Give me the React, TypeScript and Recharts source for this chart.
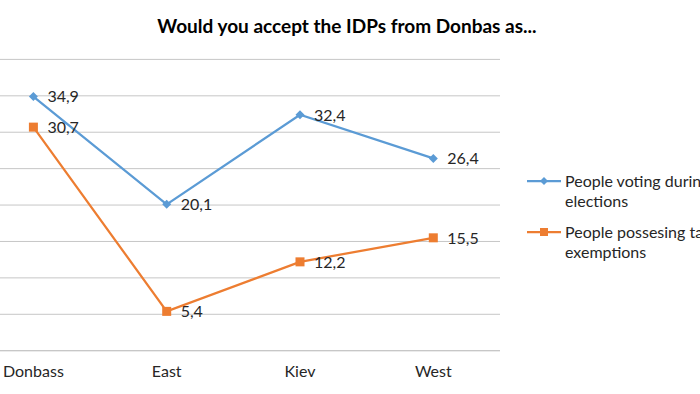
import React from 'react';
import { LineChart, Line, XAxis, YAxis, CartesianGrid, LabelList, Legend } from 'recharts';

const categories = ['Donbass', 'East', 'Kiev', 'West'];
const votingValues = [34.9, 20.1, 32.4, 26.4];
const taxValues = [30.7, 5.4, 12.2, 15.5];
const yTicks = [0, 5, 10, 15, 20, 25, 30, 35, 40];
const boundaryTicks = [1, 2, 3, 4];
const seriesNames = ['People voting during elections', 'People possesing tax exemptions'];

const BLUE = '#5B9BD5';
const ORANGE = '#ED7D31';
const FONT = 'Lato, "Open Sans", sans-serif';

const data = categories.map((c, i) => ({ cat: c, voting: votingValues[i], tax: taxValues[i] }));

const Diamond = (p: any) => {
  const { cx, cy } = p;
  if (cx == null || cy == null) return null;
  const r = 4.5;
  return <path key={`d-${p.index}`} d={`M${cx},${cy - r}L${cx + r},${cy}L${cx},${cy + r}L${cx - r},${cy}Z`} fill={BLUE} />;
};
const Square = (p: any) => {
  const { cx, cy } = p;
  if (cx == null || cy == null) return null;
  const r = 4.5;
  return <rect key={`s-${p.index}`} x={cx - r} y={cy - r} width={2 * r} height={2 * r} fill={ORANGE} />;
};

const renderLabel = (props: any) => {
  const vb = props.viewBox || {};
  const x = props.x ?? vb.x;
  const y = props.y ?? vb.y;
  return (
    <text x={x + 14} y={y} dy="0.36em" fontSize={16} fill="#262626" fontFamily={FONT}>
      {String(props.value).replace('.', ',')}
    </text>
  );
};

const renderLegend = () => (
  <div style={{ fontFamily: FONT }}>
    {seriesNames.map((name, i) => (
      <div key={name} style={{ display: 'flex', alignItems: 'flex-start', marginBottom: 11 }}>
        <svg width={34} height={20} style={{ flex: 'none' }}>
          <line x1={0} y1={10} x2={34} y2={10} stroke={i === 0 ? BLUE : ORANGE} strokeWidth={2.25} />
          {i === 0 ? (
            <path d="M17,6L21,10L17,14L13,10Z" fill={BLUE} />
          ) : (
            <rect x={13} y={6} width={8} height={8} fill={ORANGE} />
          )}
        </svg>
        <div style={{ marginLeft: 4, width: 160, lineHeight: '20px', fontSize: 16, color: '#262626' }}>{name}</div>
      </div>
    ))}
  </div>
);

export default function App() {
  return (
    <div style={{ position: 'fixed', left: 0, top: 0, width: 700, height: 394, overflow: 'hidden', background: '#fff' }}>
      <div
        style={{
          position: 'absolute',
          left: 0,
          top: 16,
          width: 694,
          textAlign: 'center',
          fontFamily: FONT,
          fontWeight: 'bold',
          fontSize: 19,
          lineHeight: '20px',
          color: '#000',
        }}
      >
        Would you accept the IDPs from Donbas as...
      </div>
      <div style={{ position: 'absolute', left: -50, top: 0 }}>
        <LineChart width={900} height={394} data={data} margin={{ top: 59.4, right: 350, bottom: 12.3, left: 16.7 }}>
          <CartesianGrid xAxisId="bounds" horizontal vertical={false} stroke="#c6c6c6" strokeWidth={1} />
          <YAxis hide domain={[0, 40]} ticks={yTicks} type="number" />
          <XAxis
            xAxisId="bounds"
            type="number"
            domain={[0, 4]}
            ticks={boundaryTicks}
            allowDataOverflow
            axisLine={{ stroke: '#c6c6c6' }}
            tick={false}
            tickSize={5}
            tickLine={{ stroke: '#c6c6c6' }}
            height={1}
          />
          <XAxis
            dataKey="cat"
            xAxisId="cat"
            padding={{ left: 66.7, right: 66.7 }}
            axisLine={false}
            tickLine={false}
            tickSize={0}
            tickMargin={14}
            height={30}
            tick={{ fontSize: 16, fill: '#262626', fontFamily: FONT }}
          />
          <Line
            xAxisId="cat"
            dataKey="voting"
            stroke={BLUE}
            strokeWidth={2.25}
            dot={Diamond}
            activeDot={false}
            isAnimationActive={false}
          >
            <LabelList dataKey="voting" content={renderLabel} />
          </Line>
          <Line
            xAxisId="cat"
            dataKey="tax"
            stroke={ORANGE}
            strokeWidth={2.25}
            dot={Square}
            activeDot={false}
            isAnimationActive={false}
          >
            <LabelList dataKey="tax" content={renderLabel} />
          </Line>
          <Legend
            layout="vertical"
            align="center"
            verticalAlign="middle"
            content={renderLegend}
            wrapperStyle={{ left: 577, top: 170.7, width: 220, bottom: 'auto', right: 'auto' }}
          />
        </LineChart>
      </div>
    </div>
  );
}
